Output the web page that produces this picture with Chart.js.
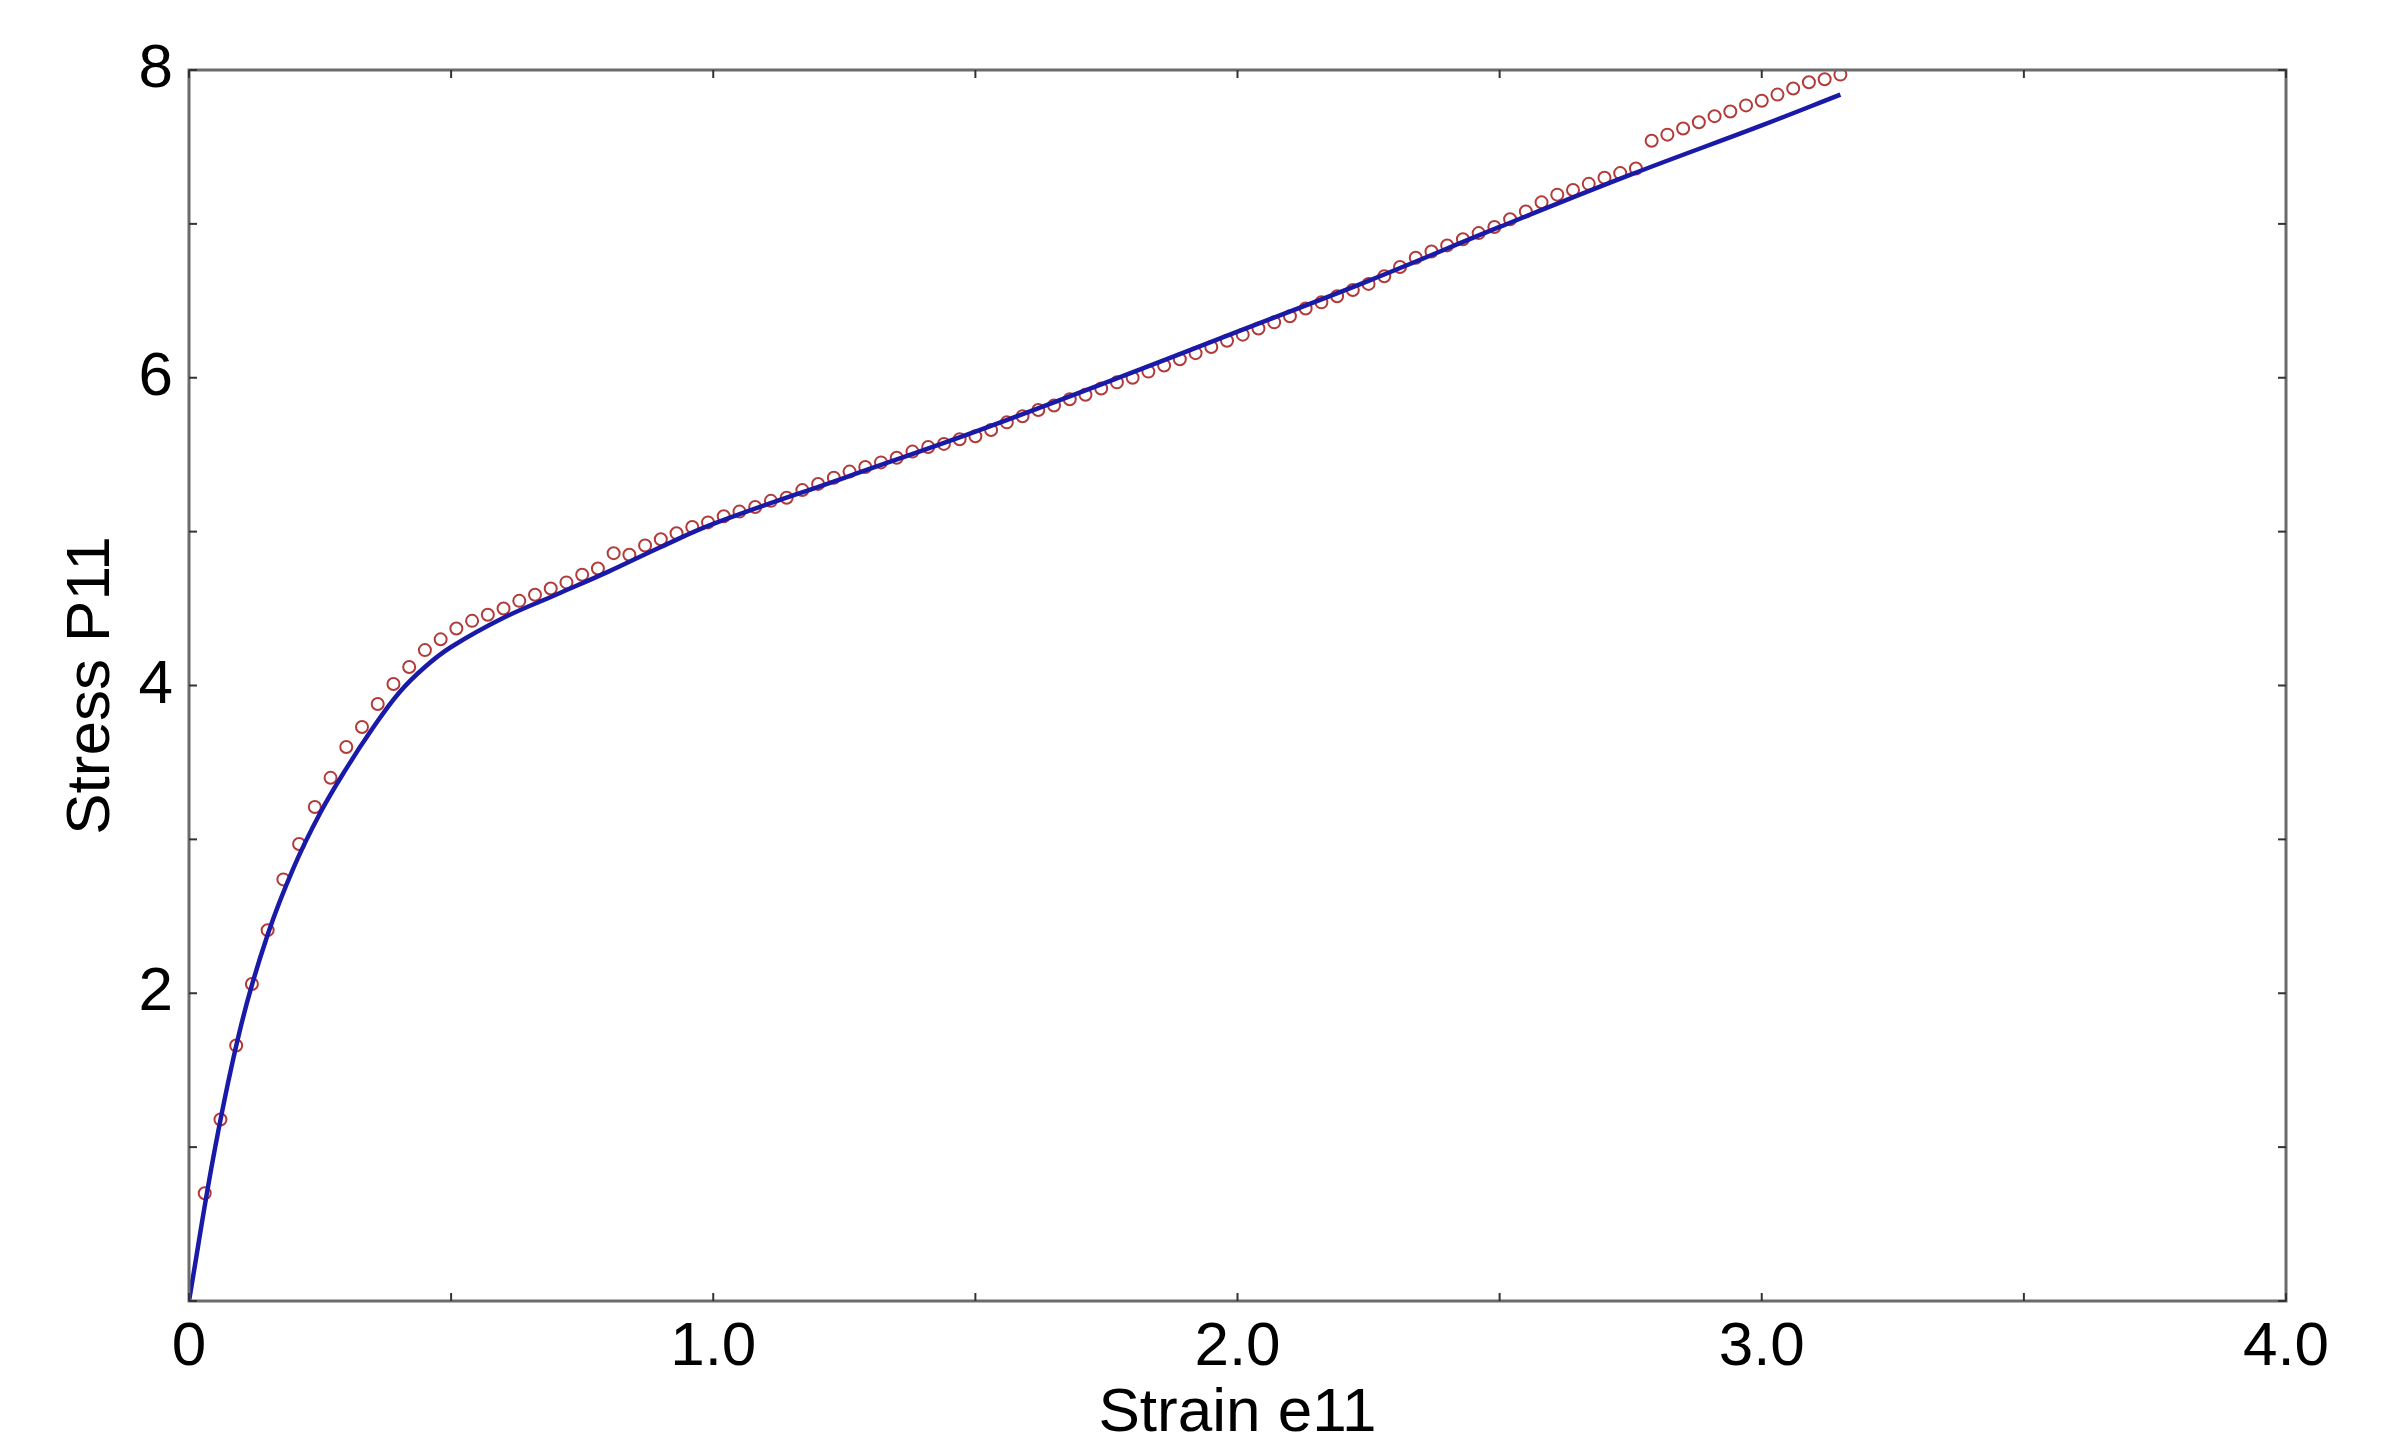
<!DOCTYPE html>
<html>
<head>
<meta charset="utf-8">
<script src="https://cdn.jsdelivr.net/npm/chart.js@4"></script>
<style>
  body { margin: 0; background: #fff; }
  #wrap { width: 2404px; height: 1451px; }
</style>
</head>
<body>
<div id="wrap"><canvas id="stressChart" width="2404" height="1451"></canvas></div>
<script>
// measured points (red circles)
const measuredStrain = [0.03,0.06,0.09,0.12,0.15,0.18,0.21,0.24,0.27,0.30,0.33,0.36,0.39,0.42,0.45,0.48,0.51,0.54,0.57,0.60,
  0.63,0.66,0.69,0.72,0.75,0.78,0.81,0.84,0.87,0.90,0.93,0.96,0.99,1.02,1.05,1.08,1.11,1.14,1.17,1.20,
  1.23,1.26,1.29,1.32,1.35,1.38,1.41,1.44,1.47,1.50,1.53,1.56,1.59,1.62,1.65,1.68,1.71,1.74,1.77,1.80,
  1.83,1.86,1.89,1.92,1.95,1.98,2.01,2.04,2.07,2.10,2.13,2.16,2.19,2.22,2.25,2.28,2.31,2.34,2.37,2.40,
  2.43,2.46,2.49,2.52,2.55,2.58,2.61,2.64,2.67,2.70,2.73,2.76,2.79,2.82,2.85,2.88,2.91,2.94,2.97,3.00,
  3.03,3.06,3.09,3.12,3.15];
const measuredStress = [0.70,1.18,1.66,2.06,2.41,2.74,2.97,3.21,3.40,3.60,3.73,3.88,4.01,4.12,4.23,4.30,4.37,4.42,4.46,4.50,
  4.55,4.59,4.63,4.67,4.72,4.76,4.86,4.85,4.91,4.95,4.99,5.03,5.06,5.10,5.13,5.16,5.20,5.22,5.27,5.31,
  5.35,5.39,5.42,5.45,5.48,5.52,5.55,5.57,5.60,5.62,5.66,5.71,5.75,5.79,5.82,5.86,5.89,5.93,5.97,6.00,
  6.04,6.08,6.12,6.16,6.20,6.24,6.28,6.32,6.36,6.40,6.45,6.49,6.53,6.57,6.61,6.66,6.72,6.78,6.82,6.86,
  6.90,6.94,6.98,7.03,7.08,7.14,7.19,7.22,7.26,7.30,7.33,7.36,7.54,7.58,7.62,7.66,7.70,7.73,7.77,7.80,
  7.84,7.88,7.92,7.94,7.97];

// model fit (blue line)
const modelStrain = [0,0.05,0.1,0.15,0.2,0.25,0.3,0.35,0.4,0.45,0.5,0.6,0.7,0.8,0.9,1.0,1.25,1.5,1.75,2.0,2.25,2.5,2.75,3.0,3.15];
const modelStress = [0,1.0,1.8,2.38,2.82,3.17,3.46,3.72,3.95,4.12,4.25,4.44,4.59,4.74,4.90,5.05,5.35,5.65,5.97,6.30,6.63,6.98,7.32,7.64,7.84];

const xTicks = [0, 0.5, 1.0, 1.5, 2.0, 2.5, 3.0, 3.5, 4.0];
const yTicks = [0, 1, 2, 3, 4, 5, 6, 7, 8];

const FONT = '"Liberation Sans", Arial, sans-serif';

// frame and inward tick marks, like the original plot
const framePlugin = {
    id: 'frame',
    afterDatasetsDraw(chart) {
        const { ctx, chartArea: a, scales } = chart;
        ctx.save();
        ctx.strokeStyle = '#6b6b6b';
        ctx.lineWidth = 3;
        ctx.strokeRect(a.left, a.top, a.right - a.left, a.bottom - a.top);
        ctx.strokeStyle = '#333';
        ctx.lineWidth = 2;
        xTicks.forEach(v => {
            const x = scales.x.getPixelForValue(v);
            ctx.beginPath(); ctx.moveTo(x, a.bottom); ctx.lineTo(x, a.bottom - 8); ctx.stroke();
            ctx.beginPath(); ctx.moveTo(x, a.top); ctx.lineTo(x, a.top + 8); ctx.stroke();
        });
        yTicks.forEach(v => {
            const y = scales.y.getPixelForValue(v);
            ctx.beginPath(); ctx.moveTo(a.left, y); ctx.lineTo(a.left + 8, y); ctx.stroke();
            ctx.beginPath(); ctx.moveTo(a.right, y); ctx.lineTo(a.right - 8, y); ctx.stroke();
        });
        ctx.restore();
    }
};

const ctx = document.getElementById('stressChart').getContext('2d');
new Chart(ctx, {
    type: 'scatter',
    data: {
        datasets: [{
            label: 'Model',
            data: modelStrain.map((x, i) => ({ x: x, y: modelStress[i] })),
            showLine: true,
            borderColor: '#1a1aa8',
            borderWidth: 4.5,
            pointRadius: 0,
            tension: 0.4,
            order: 1
        }, {
            label: 'Experiment',
            data: measuredStrain.map((x, i) => ({ x: x, y: measuredStress[i] })),
            showLine: false,
            borderColor: '#b23a3a',
            backgroundColor: 'rgba(0,0,0,0)',
            borderWidth: 2,
            pointRadius: 6,
            order: 2
        }]
    },
    options: {
        responsive: false,
        animation: false,
        layout: { padding: { top: 70, right: 118, left: 55 } },
        plugins: { legend: { display: false }, tooltip: { enabled: false } },
        scales: {
            x: {
                type: 'linear', min: 0, max: 4,
                afterFit: s => { s.height = 150; },
                afterBuildTicks: s => { s.ticks = xTicks.map(v => ({ value: v })); },
                grid: { display: false },
                border: { display: false },
                ticks: {
                    color: '#000', padding: 2,
                    font: { family: FONT, size: 62 },
                    callback: v => v === 0 ? '0' : (Number.isInteger(v) ? v.toFixed(1) : '')
                },
                title: {
                    display: true, text: 'Strain e11', color: '#000', padding: 0,
                    font: { family: FONT, size: 62 }
                }
            },
            y: {
                type: 'linear', min: 0, max: 8,
                afterFit: s => { s.width = 134; },
                afterBuildTicks: s => { s.ticks = yTicks.map(v => ({ value: v })); },
                grid: { display: false },
                border: { display: false },
                ticks: {
                    color: '#000', padding: 8,
                    font: { family: FONT, size: 62 },
                    callback: v => (v > 0 && v % 2 === 0) ? String(v) : ''
                },
                title: {
                    display: true, text: 'Stress P11', color: '#000', padding: 0,
                    font: { family: FONT, size: 62 }
                }
            }
        }
    },
    plugins: [framePlugin]
});
</script>
</body>
</html>
